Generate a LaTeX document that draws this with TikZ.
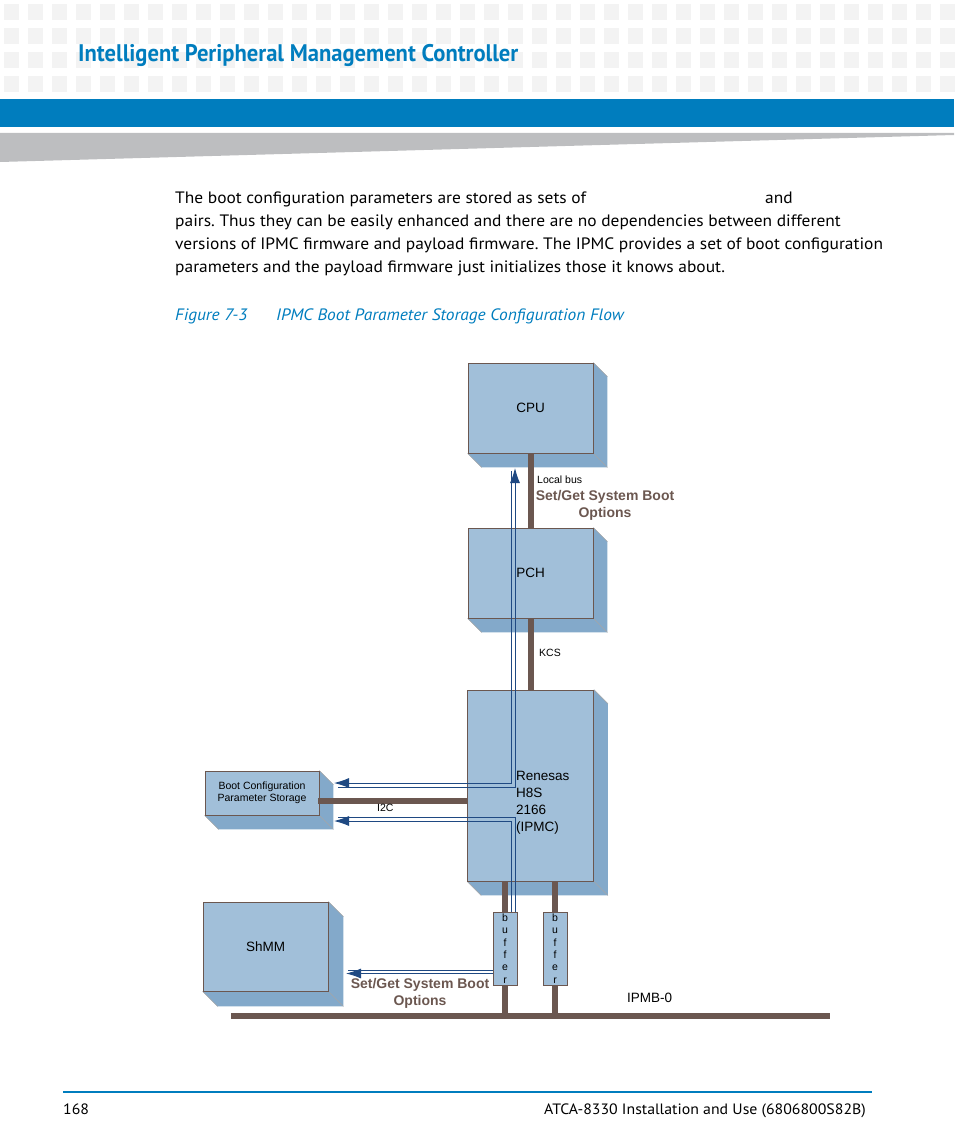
\documentclass[tikz,border=0pt]{standalone}
\usepackage{fontspec}
\setmainfont{Liberation Sans}
\newfontfamily\pagefont[FakeStretch=1.055]{PT Sans}
\newfontfamily\headfont[FakeStretch=0.94]{PT Sans}
\usetikzlibrary{arrows.meta,backgrounds}
\frenchspacing

\definecolor{acblue}{RGB}{0,125,190}
\definecolor{tilegray}{RGB}{243,243,243}
\definecolor{wedgegray}{RGB}{189,190,192}
\definecolor{boxfront}{RGB}{161,191,217}
\definecolor{boxside}{RGB}{131,169,202}
\definecolor{busbrown}{RGB}{107,87,80}
\definecolor{pipeblue}{RGB}{31,73,130}

\tikzset{
  unit/.style={draw=busbrown, line width=0.8pt, fill=boxfront, inner sep=0pt,
    font=\fontsize{13.5}{17}\selectfont},
  small/.style={font=\fontsize{10.5}{12.4}\selectfont},
  bus/.style={busbrown, line width=6pt},
  pipe/.style={pipeblue, line width=0.9pt},
  flowlabel/.style={font=\fontsize{14}{17}\selectfont\bfseries, text=busbrown, align=center},
  pagetext/.style={anchor=base west, inner sep=0pt, font=\pagefont\fontsize{16.5}{23}\selectfont},
}

% right and bottom face of a block
\newcommand{\sideface}[2]{%
  \begin{pgfonlayer}{background}
    \fill[boxside] (#1.north east) -- ++(#2,#2) -- ([shift={(#2,#2)}]#1.south east)
      -- ([shift={(#2,#2)}]#1.south west) -- (#1.south west) -- (#1.south east) -- cycle;
    \draw[gray!70, line width=0.5pt] (#1.north east) -- ++(#2,#2);
    \draw[gray!70, line width=0.5pt] (#1.south east) -- ++(#2,#2);
    \draw[gray!70, line width=0.5pt] (#1.south west) -- ++(#2,#2);
  \end{pgfonlayer}}

\begin{document}
\begin{tikzpicture}[x=1pt, y=-1pt, >={Latex[length=15pt,width=10pt]}]
\useasboundingbox (0,0) rectangle (954,1145);

% page header
\foreach \r in {0,...,3}
  \foreach \c in {0,...,39}
    \fill[tilegray] (4+24*\c,4+24*\r) rectangle ++(15,16);
\fill[acblue] (0,99) rectangle (954,127);
\fill[wedgegray] (0,133) -- (954,133) -- (954,135) -- (0,162) -- cycle;
\node[anchor=base west, inner sep=0pt, text=acblue, font=\headfont\bfseries\fontsize{24}{28}\selectfont]
  (title) at (78,62) {Intelligent Peripheral Management Controller};

% body text
\node[pagetext] (line1) at (175,203) {The boot configuration parameters are stored as sets of};
\node[pagetext] (line1b) at (765,203) {and};
\node[pagetext] (line2) at (175,226) {pairs. Thus they can be easily enhanced and there are no dependencies between different};
\node[pagetext] (line3) at (175,249) {versions of IPMC firmware and payload firmware. The IPMC provides a set of boot configuration};
\node[pagetext] (line4) at (175,272) {parameters and the payload firmware just initializes those it knows about.};
\node[pagetext, text=acblue, font=\pagefont\itshape\fontsize{16.5}{20}\selectfont] (fignum) at (175,320) {Figure 7-3};
\node[pagetext, text=acblue, font=\pagefont\itshape\fontsize{16.5}{20}\selectfont] (figtitle) at (276,320) {IPMC Boot Parameter Storage Configuration Flow};

% blocks
\node[unit, minimum width=125, minimum height=90] (cpu) at (530.5,408) {CPU};
\node[unit, minimum width=125, minimum height=90] (pch) at (530.5,573) {PCH};
\node[unit, minimum width=126, minimum height=191] (ipmc) at (530.5,785.5) {};
\node[unit, small, align=center, minimum width=114, minimum height=44] (store) at (262,793) {Boot Configuration\\Parameter Storage};
\node[unit, minimum width=125, minimum height=89] (shmm) at (265.5,946.5) {ShMM};
\sideface{cpu}{14}
\sideface{pch}{14}
\sideface{ipmc}{14}
\sideface{store}{14}
\sideface{shmm}{15}
\node[anchor=west, align=left, inner sep=0pt, font=\fontsize{13.5}{17}\selectfont] (ipmctext) at (516,803) {Renesas\\H8S\\2166\\(IPMC)};

% busses
\coordinate (busL) at (231,1016);
\coordinate (busR) at (830,1016);
\coordinate (i2cL) at (318,801);
\draw[bus] (cpu.south) -- (pch.north);
\draw[bus] (pch.south) -- (ipmc.north);
\draw[bus] (i2cL) -- (i2cL -| ipmc.west);
\draw[bus] (busL) -- (busR);
\draw[bus] (ipmc.south -| 505,0) -- (busL -| 505,0);
\draw[bus] (ipmc.south -| 555,0) -- (busL -| 555,0);

% set/get flow
\draw[pipe,->] (511,471) |- (334,783);
\draw[pipe,<-] (515,468) |- (338,787);
\node[unit, small, align=center, minimum width=24, minimum height=73] (buf1) at (505,948.5) {b\\u\\f\\f\\e\\r};
\node[unit, small, align=center, minimum width=24, minimum height=73] (buf2) at (555,948.5) {b\\u\\f\\f\\e\\r};
\draw[pipe] (338,817) -| ([xshift=10]buf1.north);
\draw[pipe,<-] (334,821) -| ([xshift=6]buf1.north);
\draw[pipe] ([yshift=-22]buf1.west) -- (348,970.5);
\draw[pipe,->] ([yshift=-25]buf1.west) -- (346,973.5);

% labels
\node[small, anchor=west, inner sep=0pt] (localbus) at (537,480) {Local bus};
\node[flowlabel] (upflow) at (605,505) {Set/Get System Boot\\Options};
\node[small, anchor=west, inner sep=0pt] (kcs) at (539,653) {KCS};
\node[small, anchor=west, inner sep=0pt] (i2c) at (377,808) {I2C};
\node[flowlabel] (downflow) at (420,993) {Set/Get System Boot\\Options};
\node[anchor=west, inner sep=0pt, font=\fontsize{13.5}{17}\selectfont] (ipmb) at (627,998) {IPMB-0};

% footer
\draw[acblue, line width=2pt] (63,1092) -- (872,1092);
\node[pagetext, font=\pagefont\fontsize{15}{18}\selectfont] (pagenum) at (63,1114) {168};
\node[pagetext, anchor=base east, font=\pagefont\fontsize{15}{18}\selectfont] (doctitle) at (866,1114) {ATCA-8330 Installation and Use (6806800S82B)};
\end{tikzpicture}
\end{document}
